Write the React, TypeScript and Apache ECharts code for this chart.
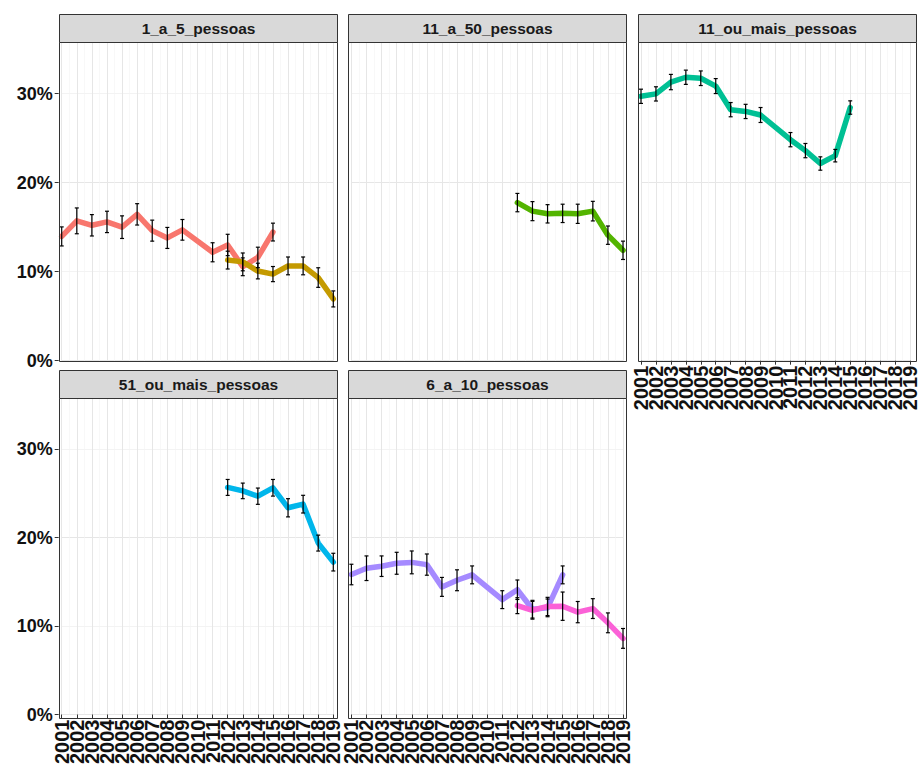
import React, { useEffect, useRef } from "react";
import * as echarts from "echarts";

const panelTitles = ["1_a_5_pessoas", "11_a_50_pessoas", "11_ou_mais_pessoas", "51_ou_mais_pessoas", "6_a_10_pessoas"];
const yearTicks = ["2001", "2002", "2003", "2004", "2005", "2006", "2007", "2008", "2009", "2010", "2011", "2012", "2013", "2014", "2015", "2016", "2017", "2018", "2019"];
const percentTicks = [0, 10, 20, 30];

// 1_a_5_pessoas (two series)
const pinkYears = [2001, 2002, 2003, 2004, 2005, 2006, 2007, 2008, 2009, 2011, 2012, 2013, 2014, 2015];
const pinkValues = [13.96, 15.71, 15.21, 15.59, 15.0, 16.44, 14.61, 13.79, 14.7, 12.18, 13.0, 10.55, 11.6, 14.45];
const pinkErrors = [1.07, 1.45, 1.2, 1.2, 1.27, 1.2, 1.18, 1.18, 1.16, 1.07, 1.2, 1.0, 1.15, 1.0];

const goldYears = [2012, 2013, 2014, 2015, 2016, 2017, 2018, 2019];
const goldValues = [11.3, 11.1, 10.07, 9.73, 10.65, 10.65, 9.34, 6.94];
const goldErrors = [1.0, 1.0, 0.88, 0.85, 1.0, 1.0, 1.1, 0.9];

// 11_a_50_pessoas
const greenYears = [2012, 2013, 2014, 2015, 2016, 2017, 2018, 2019];
const greenValues = [17.76, 16.8, 16.5, 16.55, 16.5, 16.8, 14.1, 12.4];
const greenErrors = [1.03, 1.07, 1.03, 1.03, 1.08, 1.1, 1.03, 1.03];

// 11_ou_mais_pessoas
const tealYears = [2001, 2002, 2003, 2004, 2005, 2006, 2007, 2008, 2009, 2011, 2012, 2013, 2014, 2015];
const tealValues = [29.7, 29.97, 31.3, 31.84, 31.73, 30.85, 28.2, 28.0, 27.6, 24.83, 23.6, 22.15, 23.03, 28.44];
const tealErrors = [0.8, 0.8, 0.86, 0.8, 0.82, 0.84, 0.8, 0.8, 0.84, 0.8, 0.8, 0.75, 0.7, 0.75];

// 51_ou_mais_pessoas
const cyanYears = [2012, 2013, 2014, 2015, 2016, 2017, 2018, 2019];
const cyanValues = [25.66, 25.27, 24.67, 25.62, 23.36, 23.77, 19.37, 17.22];
const cyanErrors = [0.9, 0.88, 0.92, 0.94, 1.03, 1.0, 0.9, 1.0];

// 6_a_10_pessoas (two series)
const purpleYears = [2001, 2002, 2003, 2004, 2005, 2006, 2007, 2008, 2009, 2011, 2012, 2013, 2014, 2015];
const purpleValues = [15.82, 16.53, 16.76, 17.09, 17.19, 16.94, 14.42, 15.17, 15.78, 12.98, 14.1, 11.9, 12.05, 15.78];
const purpleErrors = [1.16, 1.39, 1.16, 1.24, 1.29, 1.2, 1.07, 1.18, 1.01, 1.01, 1.1, 1.0, 1.0, 1.01];

const magentaYears = [2012, 2013, 2014, 2015, 2016, 2017, 2018, 2019];
const magentaValues = [12.3, 11.78, 12.21, 12.24, 11.57, 11.97, 10.36, 8.6];
const magentaErrors = [0.9, 1.0, 1.03, 1.6, 1.2, 1.12, 1.12, 1.12];

const seriesDefs = [
  { panel: 0, years: pinkYears, values: pinkValues, errors: pinkErrors, color: "#F8766D" },
  { panel: 0, years: goldYears, values: goldValues, errors: goldErrors, color: "#C49A00" },
  { panel: 1, years: greenYears, values: greenValues, errors: greenErrors, color: "#53B400" },
  { panel: 2, years: tealYears, values: tealValues, errors: tealErrors, color: "#00C094" },
  { panel: 3, years: cyanYears, values: cyanValues, errors: cyanErrors, color: "#00B6EB" },
  { panel: 4, years: purpleYears, values: purpleValues, errors: purpleErrors, color: "#A58AFF" },
  { panel: 4, years: magentaYears, values: magentaValues, errors: magentaErrors, color: "#FB61D7" },
];

const FONT = "'Liberation Sans', Arial, sans-serif";
const colLeft = [61.7, 351.4, 641.0];
const plotWidth = 271.6;
const rowTop = [42, 397.7];
const rowBottom = [360.7, 717.3];
const panelPos = [[0, 0], [1, 0], [2, 0], [0, 1], [1, 1]];
const xLabelPanels = [2, 3, 4];
const yLabelPanels = [0, 3];
const stripHeight = 28;
const pad = 3;

export default function App() {
  const ref = useRef<HTMLDivElement>(null);
  useEffect(() => {
    if (!ref.current) return;
    const chart = echarts.init(ref.current, undefined, { renderer: "svg" });

    const grids: any[] = [];
    const xAxes: any[] = [];
    const labelAxes: any[] = [];
    const yAxes: any[] = [];
    const graphics: any[] = [];

    panelPos.forEach(([c, r], i) => {
      const left = colLeft[c];
      const top = rowTop[r];
      const height = rowBottom[r] - rowTop[r];
      grids.push({ left, top, width: plotWidth, height, containLabel: false });
      const showX = xLabelPanels.includes(i);
      const showY = yLabelPanels.includes(i);
      xAxes.push({
        type: "value",
        gridIndex: i,
        min: 2001,
        max: 2019,
        interval: 1,
        axisLine: { show: false },
        axisTick: { show: false },
        axisLabel: { show: false },
        splitLine: { show: true, lineStyle: { color: "#E6E6E6", width: 1 } },
        minorTick: { show: false, splitNumber: 2 },
        minorSplitLine: { show: true, lineStyle: { color: "#F3F3F3", width: 0.6 } },
      });
      if (showX) {
        labelAxes.push({
          type: "category",
          gridIndex: i,
          position: "bottom",
          data: yearTicks,
          boundaryGap: false,
          axisLine: { show: false },
          axisTick: { show: true, interval: 0, length: 4, lineStyle: { color: "#333333", width: 1 } },
          axisLabel: {
            show: true,
            interval: 0,
            rotate: 90,
            margin: 5,
            fontSize: 20,
            fontWeight: "bold",
            fontFamily: FONT,
            color: "#111111",
            showMinLabel: true,
            showMaxLabel: true,
          },
          splitLine: { show: false },
        });
      }
      yAxes.push({
        type: "value",
        gridIndex: i,
        min: 0,
        max: 35.8,
        interval: 5,
        offset: pad,
        axisLine: { show: false },
        axisTick: { show: showY, length: 4, customValues: percentTicks, lineStyle: { color: "#333333", width: 1 } },
        axisLabel: {
          show: showY,
          margin: 6,
          fontSize: 18,
          fontWeight: "bold",
          fontFamily: FONT,
          color: "#111111",
          customValues: percentTicks,
          showMinLabel: true,
          showMaxLabel: true,
          hideOverlap: false,
          formatter: (v: number) => (v % 10 === 0 ? v + "%" : ""),
        },
        splitLine: { show: true, lineStyle: { color: ["#E6E6E6", "#F3F3F3"], width: 1 } },
      });

      const bx = Math.round(left - pad) + 0.5;
      const bw = Math.round(plotWidth + 2 * pad);
      const by = Math.round(top) + 0.5;
      const bh = Math.round(height);
      graphics.push({
        type: "rect",
        z: 100,
        shape: { x: bx, y: by, width: bw, height: bh },
        style: { fill: "none", stroke: "#333333", lineWidth: 1 },
        silent: true,
      });
      graphics.push({
        type: "rect",
        z: 100,
        shape: { x: bx, y: by - stripHeight, width: bw, height: stripHeight },
        style: { fill: "#D9D9D9", stroke: "#333333", lineWidth: 1 },
        silent: true,
      });
      graphics.push({
        type: "text",
        z: 101,
        x: bx + bw / 2,
        y: by - stripHeight / 2,
        style: {
          text: panelTitles[i],
          fill: "#1A1A1A",
          font: `bold 15.5px ${FONT}`,
          textAlign: "center",
          textVerticalAlign: "middle",
        },
        silent: true,
      });
    });

    const series: any[] = [];
    seriesDefs.forEach((d) => {
      series.push({
        type: "line",
        xAxisIndex: d.panel,
        yAxisIndex: d.panel,
        data: d.years.map((y, k) => [y, d.values[k]]),
        symbol: "none",
        showSymbol: false,
        z: 2,
        lineStyle: { color: d.color, width: 5.5, join: "round", cap: "round" },
        itemStyle: { color: d.color },
      });
    });
    seriesDefs.forEach((d) => {
      series.push({
        type: "custom",
        xAxisIndex: d.panel,
        yAxisIndex: d.panel,
        z: 5,
        encode: { x: 0, y: [1, 2] },
        data: d.years.map((y, k) => [y, d.values[k] - d.errors[k], d.values[k] + d.errors[k]]),
        renderItem: (params: any, api: any) => {
          const x = api.value(0);
          const lo = api.coord([x, api.value(1)]);
          const hi = api.coord([x, api.value(2)]);
          const w = 2;
          const style = { stroke: "#000000", lineWidth: 1.2 };
          return {
            type: "group",
            children: [
              { type: "line", shape: { x1: lo[0], y1: lo[1], x2: hi[0], y2: hi[1] }, style },
              { type: "line", shape: { x1: lo[0] - w, y1: lo[1], x2: lo[0] + w, y2: lo[1] }, style },
              { type: "line", shape: { x1: hi[0] - w, y1: hi[1], x2: hi[0] + w, y2: hi[1] }, style },
            ],
          };
        },
      });
    });

    chart.setOption({
      animation: false,
      backgroundColor: "#FFFFFF",
      grid: grids,
      xAxis: [...xAxes, ...labelAxes],
      yAxis: yAxes,
      series,
      graphic: graphics,
    });
    return () => chart.dispose();
  }, []);

  return (
    <div
      ref={ref}
      style={{ position: "fixed", left: 0, top: 0, width: 920, height: 767, background: "#FFFFFF" }}
    />
  );
}
